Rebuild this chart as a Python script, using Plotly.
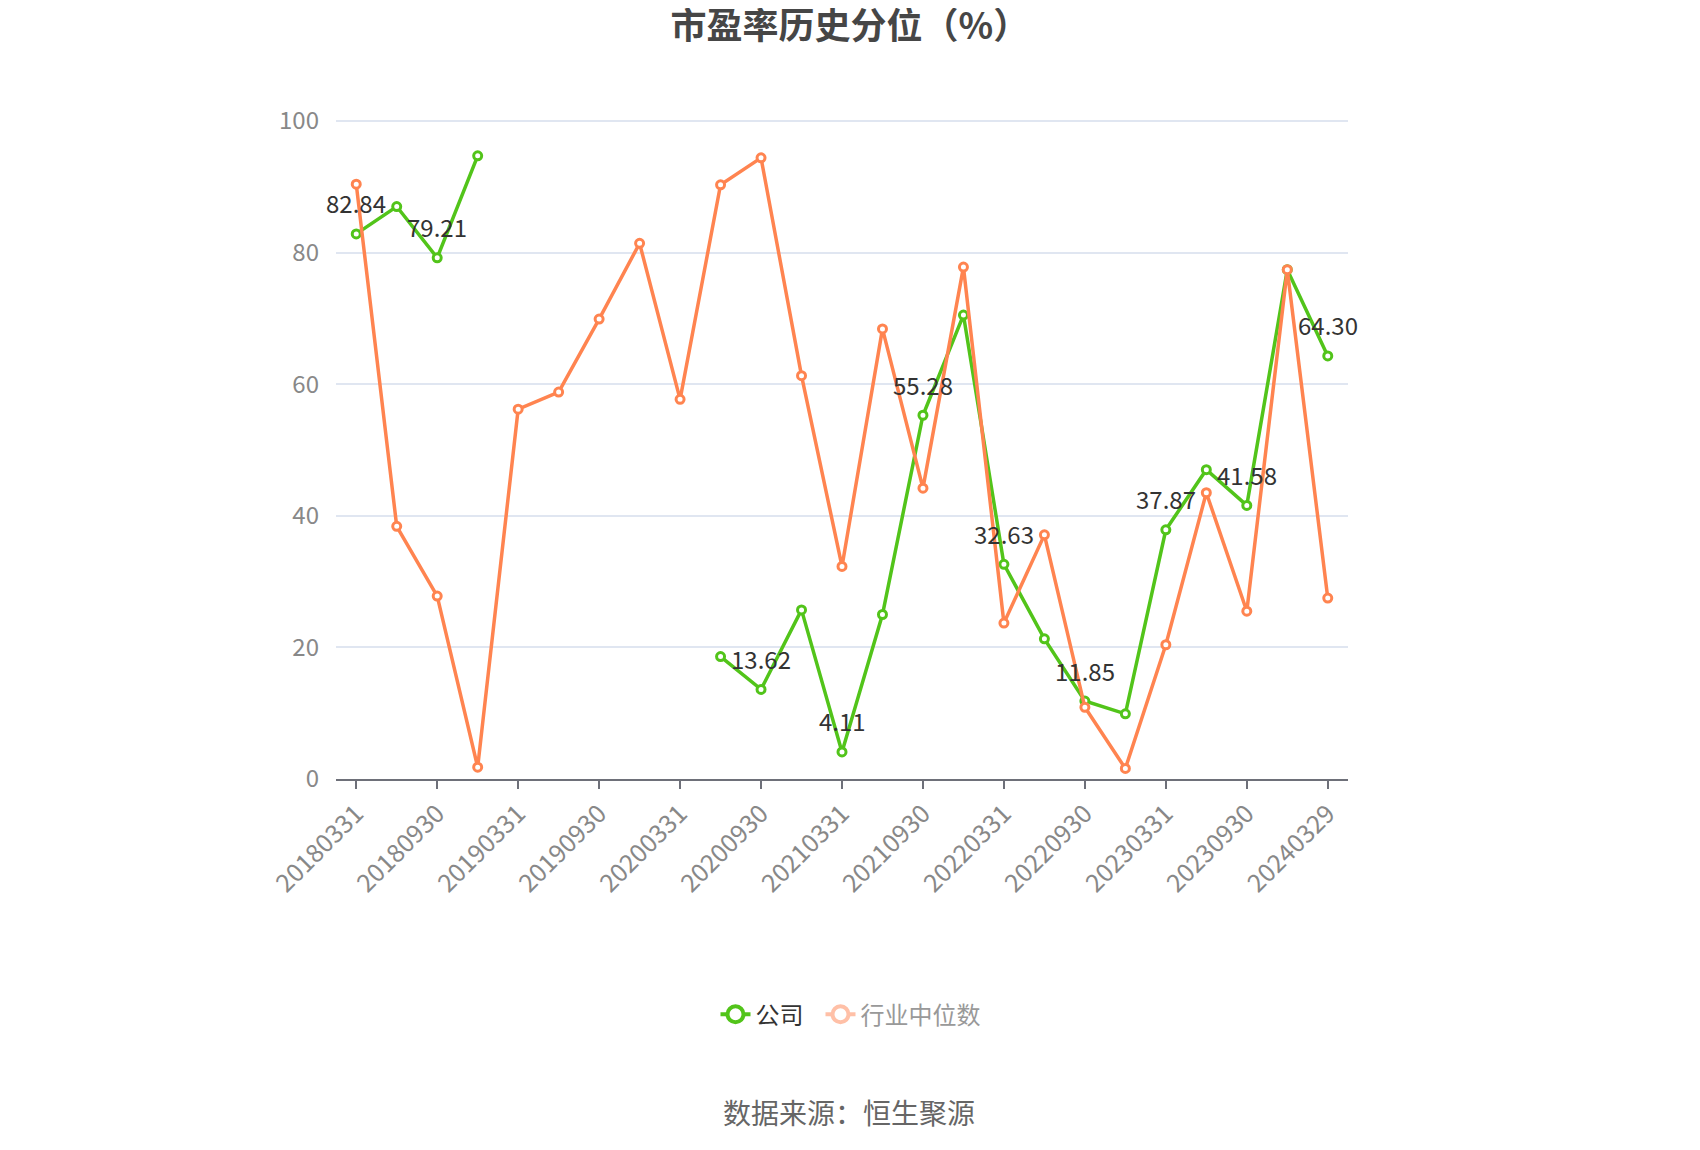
import plotly.graph_objects as go

dates = ["20180331", "20180630", "20180930", "20181231",
         "20190331", "20190630", "20190930", "20191231",
         "20200331", "20200630", "20200930", "20201231",
         "20210331", "20210630", "20210930", "20211231",
         "20220331", "20220630", "20220930", "20221231",
         "20230331", "20230630", "20230930", "20231231",
         "20240329"]

company = [82.84, 87.0, 79.21, 94.7,
           None, None, None, None,
           None, 18.6, 13.62, 25.7,
           4.11, 25.0, 55.28, 70.5,
           32.63, 21.3, 11.85, 9.9,
           37.87, 47.0, 41.58, 77.4,
           64.30]

industry = [90.4, 38.4, 27.8, 1.8,
            56.2, 58.8, 69.9, 81.4,
            57.7, 90.3, 94.4, 61.3,
            32.3, 68.4, 44.2, 77.8,
            23.7, 37.1, 10.9, 1.6,
            20.4, 43.5, 25.5, 77.4,
            27.5]

tick_labels = dates[::2]
y_ticks = [0, 20, 40, 60, 80, 100]

GREEN = "#52c41a"
ORANGE = "#ff8450"
FADED = "#ffc0a7"
FONT = "Noto Sans CJK SC, Noto Sans, sans-serif"

fig = go.Figure()
fig.add_trace(go.Scatter(
    x=dates, y=company, name="公司", mode="lines+markers",
    line=dict(color=GREEN, width=3.5),
    marker=dict(symbol="circle", size=8, color="white", line=dict(color=GREEN, width=3)),
    connectgaps=False, showlegend=False, hoverinfo="x+y",
))
fig.add_trace(go.Scatter(
    x=dates, y=industry, name="行业中位数", mode="lines+markers",
    line=dict(color=ORANGE, width=3.5),
    marker=dict(symbol="circle", size=8, color="white", line=dict(color=ORANGE, width=3)),
    showlegend=False, hoverinfo="x+y",
))
# legend entries
fig.add_trace(go.Scatter(
    x=[None], y=[None], name="公司\u2002", mode="lines+markers",
    line=dict(color=GREEN, width=4),
    marker=dict(symbol="circle", size=16, color="white", line=dict(color=GREEN, width=4)),
))
fig.add_trace(go.Scatter(
    x=[None], y=[None], name='<span style="color:#999999">行业中位数</span>', mode="lines+markers",
    line=dict(color=FADED, width=4),
    marker=dict(symbol="circle", size=16, color="white", line=dict(color=FADED, width=4)),
))

annotations = []
for i, v in enumerate(company):
    if i % 2 == 0 and v is not None:
        annotations.append(dict(
            x=i, y=v, xref="x", yref="y", text=f"{v:.2f}", showarrow=False,
            yshift=31, font=dict(size=24, color="#333333", family=FONT),
        ))
annotations.append(dict(
    x=0.5074, y=-0.5046, xref="paper", yref="paper", text="数据来源：恒生聚源",
    showarrow=False, yanchor="middle", xanchor="center",
    font=dict(size=28, color="#666666", family=FONT),
))

fig.update_layout(
    width=1692, height=1142,
    margin=dict(l=328, r=352, t=111, b=371),
    paper_bgcolor="white", plot_bgcolor="white",
    font=dict(family=FONT),
    title=dict(text="<b>市盈率历史分位（%）</b>", x=0.4976, xanchor="center",
               y=1 - 18.5 / 1142, yref="container", yanchor="middle",
               font=dict(size=36, color="#464646", family=FONT)),
    legend=dict(orientation="h", x=0.5084, xanchor="center", y=-0.357, yanchor="middle",
                font=dict(size=24, color="#333333", family=FONT), itemsizing="trace"),
    annotations=annotations,
    showlegend=True,
)
fig.update_xaxes(
    type="category", categoryorder="array", categoryarray=dates,
    range=[-0.5, len(dates) - 0.5],
    tickvals=tick_labels, ticktext=tick_labels, tickangle=-45,
    showline=True, linecolor="#6E7079", linewidth=2,
    ticks="outside", ticklen=8, tickcolor="#6E7079", tickwidth=2,
    showgrid=False, tickfont=dict(size=25, color="#888888", family=FONT),
)
fig.update_yaxes(
    range=[0, 100.3], tickvals=y_ticks, showline=False, zeroline=False,
    gridcolor="#E0E6F1", gridwidth=1.5, ticklabelstandoff=16,
    tickfont=dict(size=24, color="#888888", family=FONT),
)

fig.write_html("out.html")
